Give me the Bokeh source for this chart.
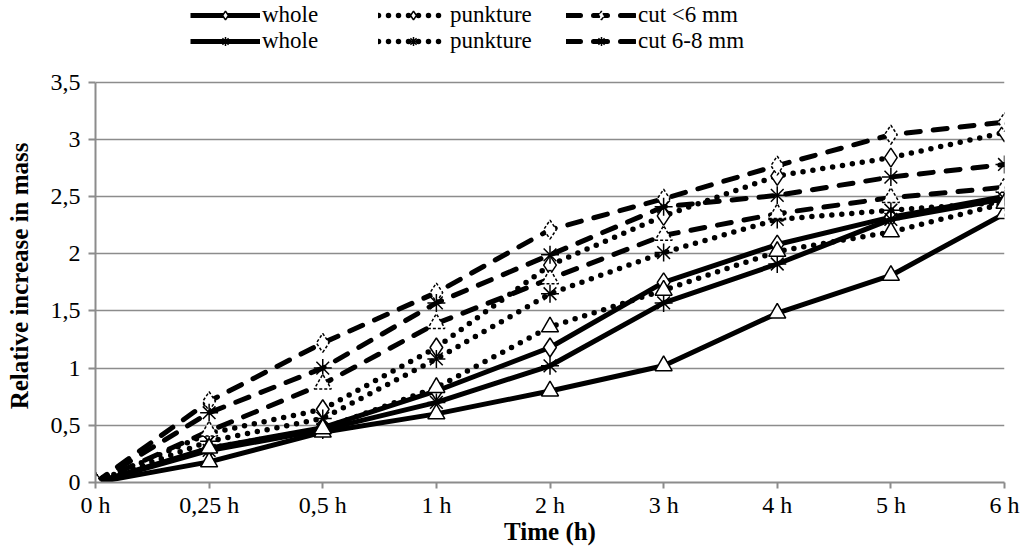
from bokeh.plotting import figure
from bokeh.models import FixedTicker, Legend, LegendItem, Range1d
from bokeh.embed import file_html
from bokeh.resources import INLINE

times = ["0 h", "0,25 h", "0,5 h", "1 h", "2 h", "3 h", "4 h", "5 h", "6 h"]

whole_d    = [0, 0.30, 0.48, 0.80, 1.18, 1.75, 2.08, 2.32, 2.50]
punkture_d = [0, 0.43, 0.64, 1.18, 1.90, 2.33, 2.68, 2.84, 3.06]
cut6_d     = [0, 0.71, 1.22, 1.66, 2.21, 2.48, 2.77, 3.04, 3.15]

whole_a    = [0, 0.28, 0.46, 0.70, 1.02, 1.57, 1.91, 2.30, 2.48]
punkture_a = [0, 0.36, 0.56, 1.08, 1.65, 2.01, 2.30, 2.38, 2.45]
cut68_a    = [0, 0.61, 1.00, 1.57, 1.99, 2.41, 2.51, 2.67, 2.78]

whole_t    = [0, 0.18, 0.44, 0.60, 0.80, 1.02, 1.48, 1.81, 2.35]
punkture_t = [0, 0.30, 0.47, 0.83, 1.36, 1.68, 2.02, 2.19, 2.44]
cut_t      = [0, 0.45, 0.86, 1.39, 1.78, 2.16, 2.35, 2.49, 2.58]

legend_labels = ["whole", "punkture", "cut <6 mm", "whole", "punkture", "cut 6-8 mm"]
y_ticks = [0, 0.5, 1, 1.5, 2, 2.5, 3, 3.5]
x_title = "Time (h)"
y_title = "Relative increase in mass"

xs = list(range(len(times)))
FONT = "Liberation Serif"

W, H = 1020, 550
B_LEFT, B_RIGHT, B_BOTTOM = 95, 16, 68
FRAME_H = H - B_BOTTOM            # frame spans from canvas top to the x axis
TOP_GAP = 81.6                    # space above the 3,5 gridline, kept for the legend
y_max = max(y_ticks)
y_end = y_max + TOP_GAP * y_max / (FRAME_H - TOP_GAP)

p = figure(width=W, height=H, output_backend="svg", toolbar_location=None,
           x_range=Range1d(0, len(times) - 1), y_range=Range1d(0, y_end),
           min_border_left=B_LEFT, min_border_right=B_RIGHT, min_border_top=0,
           min_border_bottom=B_BOTTOM)
p.outline_line_color = None
p.background_fill_color = "white"

GRID = "#8c8c8c"
p.xgrid.grid_line_color = None
p.ygrid.grid_line_color = GRID
p.ygrid.grid_line_width = 1.6
p.ygrid.ticker = FixedTicker(ticks=y_ticks)

p.xaxis.ticker = FixedTicker(ticks=xs)
p.xaxis.major_label_overrides = {i: t for i, t in enumerate(times)}
p.yaxis.ticker = FixedTicker(ticks=y_ticks)
p.yaxis.major_label_overrides = {v: (str(v).replace(".", ",") if v != int(v) else str(int(v))) for v in y_ticks}
p.yaxis.bounds = (0, y_max)

for ax in (p.xaxis[0], p.yaxis[0]):
    ax.axis_line_color = GRID
    ax.axis_line_width = 2
    ax.major_tick_line_color = GRID
    ax.major_tick_line_width = 2
    ax.major_tick_in = 0
    ax.major_tick_out = 7
    ax.minor_tick_line_color = None
    ax.major_label_text_font = FONT
    ax.major_label_text_font_size = "24px"
    ax.major_label_text_color = "black"
    ax.axis_label_text_font = FONT
    ax.axis_label_text_font_size = "25px"
    ax.axis_label_text_font_style = "bold"
    ax.axis_label_text_color = "black"

p.xaxis.axis_label = x_title
# the label is centred on the whole frame (which also holds the legend strip);
# trailing no-break spaces move the visible words down to the middle of the 0..3,5 span
p.yaxis.axis_label = y_title + "\u00a0" * 11
p.xaxis.major_tick_out = 6
p.xaxis.major_label_standoff = 3
p.xaxis.axis_label_standoff = -3
p.yaxis.major_label_standoff = 8
p.yaxis.axis_label_standoff = 15

styles = {
    "solid": dict(line_dash="solid", line_width=5),
    "dot": dict(line_dash="0 10", line_width=5.5, line_cap="round"),
    "dash": dict(line_dash="14 13", line_width=5, line_cap="round"),
}

series = [
    (whole_d, "solid", "diamond", "solid"),
    (punkture_d, "dot", "diamond", "solid"),
    (cut6_d, "dash", "diamond", "3 2"),
    (whole_a, "solid", "asterisk", "solid"),
    (punkture_a, "dot", "asterisk", "solid"),
    (cut68_a, "dash", "asterisk", "solid"),
    (whole_t, "solid", "triangle", "solid"),
    (punkture_t, "dot", "triangle", "solid"),
    (cut_t, "dash", "triangle", "3 2"),
]

sizes = {"diamond": 19, "asterisk": 18, "triangle": 17}
renderers = []
for vals, ls, mk, mdash in series:
    r1 = p.line(xs, vals, line_color="black", **styles[ls])
    r2 = p.scatter(xs, vals, marker=mk, size=sizes[mk], fill_color="white", line_color="black",
                   line_width=1.5, line_dash=mdash)
    renderers.append((r1, r2))

LEG_H = 54
items = [LegendItem(label=legend_labels[i], renderers=list(renderers[i])) for i in range(6)]
legend = Legend(items=items, orientation="horizontal", ncols=3,
                location=(95, FRAME_H - LEG_H),
                glyph_width=70, glyph_height=22, label_height=22, label_standoff=2,
                label_width=116, spacing=0,
                label_text_font=FONT, label_text_font_size="23px", label_text_color="black",
                padding=0, margin=0, border_line_color=None, background_fill_alpha=0)
p.add_layout(legend, "center")

open("out.html", "w").write(file_html(p, INLINE))
